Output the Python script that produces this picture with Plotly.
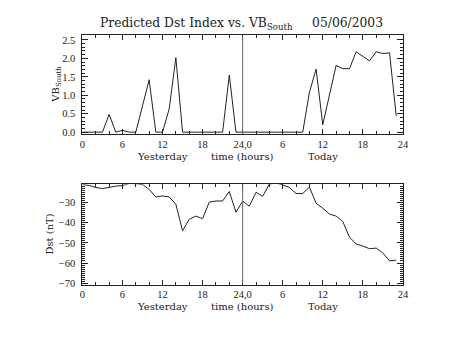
import plotly.graph_objects as go

hours = list(range(48))
vb_south = [0, 0, 0, 0, 0.48, 0, 0.05, 0, 0, 0.72, 1.42, 0, 0, 0.63, 2.02, 0,
            0, 0, 0, 0, 0, 0, 1.55, 0,
            0, 0, 0, 0, 0, 0, 0, 0, 0, 0, 1.08, 1.71, 0.2, 1.0, 1.81, 1.72,
            1.72, 2.18, 2.05, 1.93, 2.18, 2.13, 2.15, 0.44]
dst = [-21, -21.5, -22.5, -23, -22.5, -21.8, -21.6, -20.5, -20.6, -21, -23.5, -27.2,
       -26.7, -27.2, -30.8, -44, -38.3, -36.7, -38, -29.8, -29.2, -29.2, -24.5, -34.8,
       -29.3, -31.8, -24.9, -26.9, -20.8, -20.3, -21.2, -22.5, -25.5, -25.5, -22.3, -30.3,
       -32.8, -35.7, -36.7, -39.4, -47.2, -50.5, -51.6, -52.9, -52.6, -55, -58.9, -58.6]
x_tickvals = [0, 6, 12, 18, 24, 30, 36, 42, 48]
x_ticktext = ['0', '6', '12', '18', '24,0', '6', '12', '18', '24']
vb_tickvals = [0, 0.5, 1.0, 1.5, 2.0, 2.5]
vb_ticktext = ['0.0', '0.5', '1.0', '1.5', '2.0', '2.5']
dst_tickvals = [-30, -40, -50, -60, -70]
dst_ticktext = ['\u221230', '\u221240', '\u221250', '\u221260', '\u221270']

W, H = 453, 340
ink = '#222222'
tickfont = dict(family='Liberation Serif', size=10.5, color=ink)
lblfont = dict(family='DejaVu Serif', size=10, color=ink)

fig = go.Figure()
fig.add_trace(go.Scatter(x=hours, y=vb_south, mode='lines', line=dict(color=ink, width=1),
                         xaxis='x', yaxis='y', showlegend=False))
fig.add_trace(go.Scatter(x=hours, y=dst, mode='lines', line=dict(color=ink, width=1),
                         xaxis='x2', yaxis='y2', showlegend=False))

xd = [81 / W, 408 / W]
top_dom = [(H - 135) / H, (H - 35) / H]
bot_dom = [(H - 288) / H, (H - 186) / H]

def xaxis(anchor):
    return dict(domain=xd, range=[0, 48], anchor=anchor, tickvals=x_tickvals, ticktext=x_ticktext,
                ticks='inside', ticklen=5, tickcolor=ink, tickwidth=1,
                minor=dict(dtick=2, tick0=0, ticks='inside', ticklen=3, tickcolor=ink, tickwidth=1),
                showline=True, linecolor=ink, linewidth=1, mirror='allticks',
                showgrid=False, zeroline=False, tickfont=tickfont, ticklabelstandoff=0)

fig.update_layout(
    width=W, height=H, margin=dict(l=0, r=0, t=0, b=0),
    paper_bgcolor='white', plot_bgcolor='white',
    xaxis=xaxis('y'),
    xaxis2=xaxis('y2'),
    yaxis=dict(domain=top_dom, range=[-0.05, 2.62], anchor='x', tickvals=vb_tickvals, ticktext=vb_ticktext,
               ticks='inside', ticklen=6, tickcolor=ink, tickwidth=1,
               minor=dict(dtick=0.1, tick0=0, ticks='inside', ticklen=3, tickcolor=ink, tickwidth=1),
               showline=True, linecolor=ink, linewidth=1, mirror='allticks',
               showgrid=False, zeroline=False, tickfont=tickfont, ticklabelstandoff=4),
    yaxis2=dict(domain=bot_dom, range=[-70.8, -20.9], anchor='x2', tickvals=dst_tickvals, ticktext=dst_ticktext,
                ticks='inside', ticklen=6, tickcolor=ink, tickwidth=1,
                minor=dict(dtick=1, tick0=0, ticks='inside', ticklen=3, tickcolor=ink, tickwidth=1),
                showline=True, linecolor=ink, linewidth=1, mirror='allticks',
                showgrid=False, zeroline=False, tickfont=tickfont, ticklabelstandoff=4),
)

for xr, yr in [('x', 'y domain'), ('x2', 'y2 domain')]:
    fig.add_shape(type='line', xref=xr, yref=yr, x0=24, x1=24, y0=0, y1=1,
                  line=dict(color='#666666', width=1))

def ann(text, xpx, ypx, font, angle=0):
    fig.add_annotation(text=text, x=xpx / W, y=1 - ypx / H, xref='paper', yref='paper',
                       showarrow=False, font=font, textangle=angle,
                       xanchor='center', yanchor='middle')

ann('Predicted Dst Index vs. VB<sub>South</sub>     05/06/2003', 243, 23,
    dict(family='DejaVu Serif', size=12.3, color=ink))
for ypx in (158, 310):
    ann('Yesterday', 163, ypx, lblfont)
    ann('time (hours)', 244, ypx, lblfont)
    ann('Today', 326, ypx, lblfont)
ann('VB<sub>South</sub>', 55, 84, lblfont, -90)
ann('Dst (nT)', 47, 237, lblfont, -90)

fig.write_html('out.html')
